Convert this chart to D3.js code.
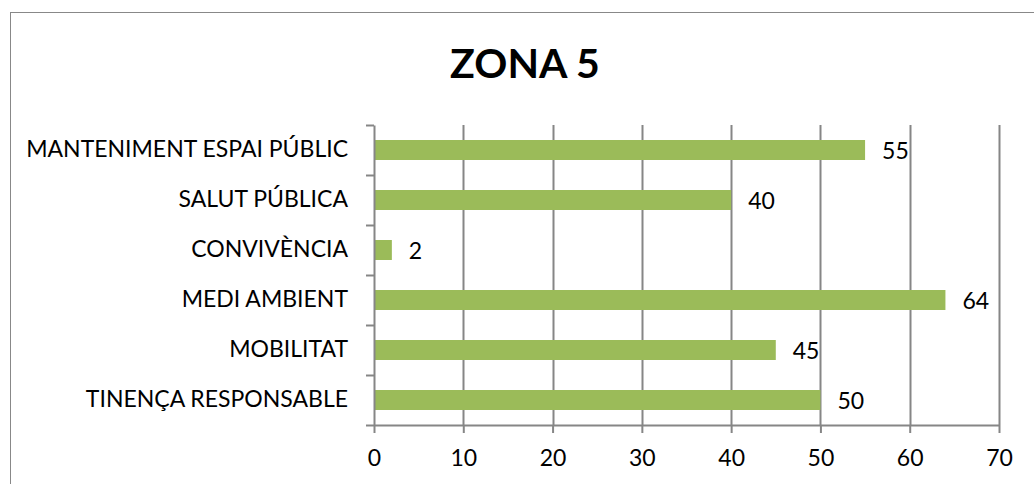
<!DOCTYPE html>
<meta charset="utf-8">
<title>ZONA 5</title>
<style type="text/css">
  body { margin: 0; background: #fff; }
  text { font-family: Lato, "Open Sans", sans-serif; fill: #000; }
  .title { font-size: 41px; font-weight: bold; text-anchor: middle; }
  .tick text { font-size: 23px; }
  .domain, .tick line { stroke: #868686; }
</style>
<body>
<script src="https://cdn.jsdelivr.net/npm/d3@7"></script>
<script>

// chart data
var categories = ["MANTENIMENT ESPAI PÚBLIC", "SALUT PÚBLICA", "CONVIVÈNCIA",
                  "MEDI AMBIENT", "MOBILITAT", "TINENÇA RESPONSABLE"];
var values = [55, 40, 2, 64, 45, 50];
var xTicks = [0, 10, 20, 30, 40, 50, 60, 70];

var data = categories.map(function(c, i) { return {cat: c, value: values[i]}; });

var margin = {top: 125, right: 35, bottom: 59, left: 374};
var width = 1034 - margin.left - margin.right;
var height = 484 - margin.top - margin.bottom;

var svg = d3.select("body")
            .append("svg")
            .attr("width", 1034)
            .attr("height", 484);

// outer chart border
svg.append("rect")
   .attr("x", 10.5)
   .attr("y", 12.5)
   .attr("width", 1040)
   .attr("height", 500)
   .attr("fill", "none")
   .attr("stroke", "#888");

svg.append("text")
   .attr("class", "title")
   .attr("x", 525)
   .attr("y", 78)
   .text("ZONA 5");

var g = svg.append("g")
           .attr("transform", "translate(" + margin.left + "," + margin.top + ")");

var x = d3.scaleLinear().domain([0, 70]).range([0, width]);
var y = d3.scaleBand().domain(categories).range([0, height]).paddingInner(0.6).paddingOuter(0.3);

// vertical gridlines
g.selectAll(".grid")
 .data(xTicks.slice(1))
 .enter()
 .append("line")
 .attr("class", "grid")
 .attr("x1", function(d) { return Math.round(x(d)) + 0.5; })
 .attr("x2", function(d) { return Math.round(x(d)) + 0.5; })
 .attr("y1", 0)
 .attr("y2", height)
 .attr("stroke", "#868686")
 .attr("stroke-width", 2);

// bars
g.selectAll(".bar")
 .data(data)
 .enter()
 .append("rect")
 .attr("class", "bar")
 .attr("x", x(0))
 .attr("y", function(d) { return y(d.cat); })
 .attr("width", function(d) { return x(d.value) - x(0); })
 .attr("height", y.bandwidth())
 .attr("fill", "#9BBB59");

// value labels
g.selectAll(".val")
 .data(data)
 .enter()
 .append("text")
 .attr("class", "val")
 .attr("x", function(d) { return x(d.value) + 17; })
 .attr("y", function(d) { return y(d.cat) + y.bandwidth() / 2; })
 .attr("dy", "0.38em")
 .style("font-size", "23px")
 .text(function(d) { return d.value; });

// x axis
var xAxis = g.append("g")
             .attr("transform", "translate(0," + height + ")")
             .call(d3.axisBottom(x).tickValues(xTicks).tickSizeInner(8).tickSizeOuter(0).tickPadding(17));
xAxis.selectAll("line, path").attr("stroke-width", 2);

// y axis with ticks between categories
var yAxis = g.append("g")
             .call(d3.axisLeft(y).tickSize(0).tickPadding(26));
yAxis.select(".domain").attr("stroke-width", 2);
yAxis.selectAll(".sep")
     .data(d3.range(categories.length + 1))
     .enter()
     .append("line")
     .attr("class", "sep")
     .attr("x1", -8)
     .attr("x2", 0)
     .attr("y1", function(i) { return Math.round(i * height / categories.length) + 0.5; })
     .attr("y2", function(i) { return Math.round(i * height / categories.length) + 0.5; })
     .attr("stroke", "#868686")
     .attr("stroke-width", 2);

</script>
</body>
